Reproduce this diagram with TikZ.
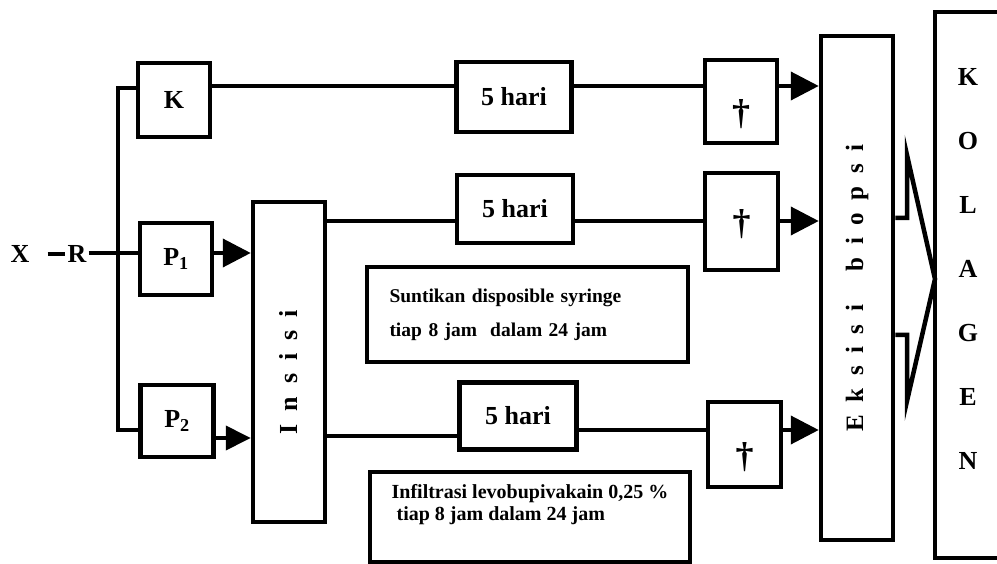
\documentclass[tikz,border=0pt]{standalone}
\usepackage{fontspec}
\setmainfont{Liberation Serif}
\usetikzlibrary{arrows.meta}

\tikzset{
  kotak/.style={draw, line width=4.5pt, inner sep=0pt, font=\fontsize{26}{26}\selectfont\bfseries},
  huruf/.style={inner sep=2pt, font=\fontsize{26}{26}\selectfont\bfseries},
  garis/.style={line width=4pt},
  panah/.style={garis, -{Triangle[length=28pt,width=28pt]}},
  panahkecil/.style={garis, -{Triangle[length=25pt,width=24pt]}},
  catatan/.style={draw, line width=4.5pt, align=left, inner ysep=0pt,
    font=\fontsize{19.5}{34}\selectfont\bfseries}
}
\newcommand{\salib}[1]{\raisebox{#1}[0pt][0pt]{\fontsize{36}{36}\selectfont †}}
\newcommand{\renggang}[1]{{\addfontfeature{LetterSpace=50}#1}}

\begin{document}
\begin{tikzpicture}[x=1pt, y=-1pt]
\useasboundingbox (0,0) rectangle (997,564);

% baris garis
\coordinate (rowM) at (0,253);
\coordinate (rowK) at (0,88);
\coordinate (rowA) at (0,86);
\coordinate (rowB) at (0,221);
\coordinate (rowP) at (0,430);
\coordinate (rowQ) at (0,438);
\coordinate (rowC) at (0,436);
\coordinate (rowD) at (0,430);
\coordinate (cab) at (118,253);

\node[huruf] (X) at (20,254) {X};
\node[huruf] (R) at (77,254) {R};
\node[kotak, minimum width=72pt, minimum height=74pt] (K) at (174,100) {K};
\node[kotak, minimum width=72pt, minimum height=72pt] (P1) at (176,259) {P\textsubscript{1}};
\node[kotak, minimum width=73pt, minimum height=72pt] (P2) at (177,421) {P\textsubscript{2}};
\node[kotak, minimum width=72pt, minimum height=320pt] (insisi) at (289,362)
  {\rotatebox{90}{\fontsize{26}{26}\selectfont\renggang{Insisi}\hspace{20pt}}};

\node[kotak, minimum width=115pt, minimum height=70pt] (lima1) at (514,97) {5 hari};
\node[kotak, minimum width=116pt, minimum height=68pt] (lima2) at (515,209) {5 hari};
\node[kotak, minimum width=117pt, minimum height=67pt] (lima3) at (518,416) {5 hari};

\node[kotak, minimum width=72pt, minimum height=83pt] (mati1) at (741,101.5) {\salib{-23pt}};
\node[kotak, minimum width=73pt, minimum height=97pt] (mati2) at (741.5,221.5) {\salib{-13pt}};
\node[kotak, minimum width=73pt, minimum height=85pt] (mati3) at (744.5,444.5) {\salib{-23pt}};

\node[catatan, text width=276pt, minimum width=321pt, minimum height=95pt, inner xsep=22.5pt]
  (suntik) at (527.5,314.5) {Suntikan disposible syringe\\tiap 8 jam~~dalam 24 jam};
\node[catatan, minimum width=320pt, minimum height=90pt,
  font=\fontsize{20}{22}\selectfont\bfseries]
  (infil) at (530,517) {Infiltrasi levobupivakain 0,25 \%\\\ tiap 8 jam dalam 24 jam\\[8pt]};

\node[kotak, minimum width=72pt, minimum height=504pt] (eksisi) at (857,288)
  {\rotatebox{90}{\fontsize{25}{25}\selectfont\renggang{Eksisi}\hspace{34pt}\renggang{biopsi}}};
\node[kotak, minimum width=72pt, minimum height=546pt] (kolagen) at (971,285) {};
\foreach \h [count=\i] in {K,O,L,A,G,E,N}
  \node[huruf] (kol\i) at (968,13+64*\i) {\h};

% percabangan
\draw[garis, shorten <=16pt] (X) -- (R);
\draw[garis] (R.east |- rowM) -- (P1.west |- rowM);
\draw[garis] (K.west |- rowK) -| (cab) |- (P2.west |- rowP);

% alur
\draw[panah] (P1.east |- rowM) -- (insisi.west |- rowM);
\draw[panahkecil] (P2.east |- rowQ) -- (insisi.west |- rowQ);
\draw[garis] (K.east |- rowA) -- (lima1.west |- rowA);
\draw[garis] (lima1.east |- rowA) -- (mati1.west |- rowA);
\draw[panah] (mati1.east |- rowA) -- (eksisi.west |- rowA);
\draw[garis] (insisi.east |- rowB) -- (lima2.west |- rowB);
\draw[garis] (lima2.east |- rowB) -- (mati2.west |- rowB);
\draw[panah] (mati2.east |- rowB) -- (eksisi.west |- rowB);
\draw[garis] (insisi.east |- rowC) -- (lima3.west |- rowC);
\draw[garis] (lima3.east |- rowD) -- (mati3.west |- rowD);
\draw[panah] (mati3.east |- rowD) -- (eksisi.west |- rowD);

% panah besar
\coordinate (pa) at (907,218);
\coordinate (pb) at (907,155);
\coordinate (ujung) at (935,279);
\coordinate (pc) at (907,401);
\coordinate (pd) at (907,335);
\draw[garis, line width=4.5pt] (eksisi.east |- pa) -- (pa) -- (pb) -- (ujung) -- (pc) -- (pd) -- (eksisi.east |- pd);
\end{tikzpicture}
\end{document}
